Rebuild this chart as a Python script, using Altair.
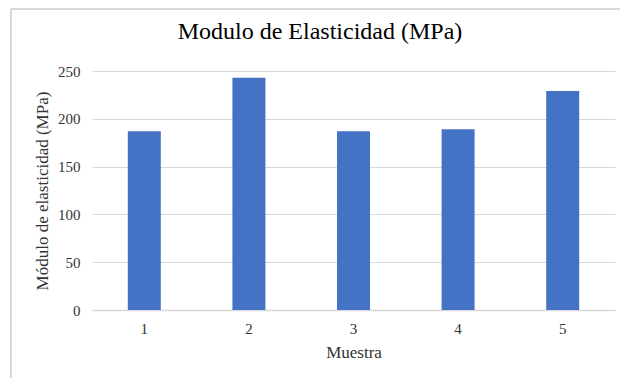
import altair as alt
import pandas as pd

# Elastic modulus per specimen (MPa)
muestras = ["1", "2", "3", "4", "5"]
modulo = [187, 243, 187, 189, 229]
titulo = "Modulo de Elasticidad (MPa)"

df = pd.DataFrame({"Muestra": muestras, "Modulo": modulo})

SERIF = "Liberation Serif"
GRID = "#d9d9d9"

bars = alt.Chart(df).mark_bar(size=33, color="#4472C4").encode(
    x=alt.X(
        "Muestra:O",
        sort=muestras,
        scale=alt.Scale(paddingInner=0, paddingOuter=0),
        axis=alt.Axis(
            title="Muestra",
            labelAngle=0,
            ticks=False,
            domainColor=GRID,
            domainWidth=1.5,
            labelFont=SERIF,
            labelFontSize=15,
            labelColor="#333333",
            labelPadding=11,
            titleFont=SERIF,
            titleFontSize=17,
            titleFontWeight="normal",
            titleColor="#333333",
            titlePadding=8,
        ),
    ),
    y=alt.Y(
        "Modulo:Q",
        scale=alt.Scale(domain=[0, 250]),
        axis=alt.Axis(
            title="Módulo de elasticidad (MPa)",
            values=[0, 50, 100, 150, 200, 250],
            domain=False,
            ticks=False,
            gridColor=GRID,
            gridWidth=1.2,
            labelFont=SERIF,
            labelFontSize=15,
            labelColor="#333333",
            labelPadding=12,
            titleFont=SERIF,
            titleFontSize=17,
            titleFontWeight="normal",
            titleColor="#333333",
            titlePadding=6,
        ),
    ),
)

# Light outer frame around the chart (left and top edges)
frame_left = alt.Chart(df).mark_rule(color=GRID, strokeWidth=1.5).encode(
    x=alt.value(-81), y=alt.value(-62), y2=alt.value(320)
)
frame_top = alt.Chart(df).mark_rule(color=GRID, strokeWidth=1.5).encode(
    x=alt.value(-81), x2=alt.value(540), y=alt.value(-62)
)

# Chart heading, centred over the whole figure
heading = alt.Chart(pd.DataFrame({"t": [titulo]})).mark_text(
    font=SERIF, fontSize=24, color="#000000", align="center", baseline="alphabetic"
).encode(text="t:N", x=alt.value(228), y=alt.value(-32))

chart = (
    alt.layer(bars, frame_left, frame_top, heading)
    .properties(
        width=523,
        height=239,
        autosize=alt.AutoSizeParams(type="none"),
        padding={"left": 92, "top": 71, "right": 5, "bottom": 68},
        background="white",
    )
    .configure_view(stroke=None)
)

chart.save("out.html", embed_options={"renderer": "svg", "actions": False})
